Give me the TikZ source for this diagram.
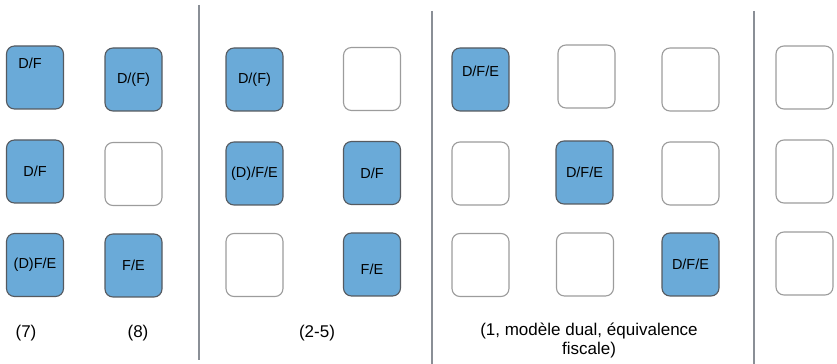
\documentclass[tikz,border=0pt]{standalone}
\usepackage{fontspec}
\setmainfont{Liberation Sans}
\definecolor{cellblue}{HTML}{6AAAD8}
\definecolor{celledge}{HTML}{555A60}
\definecolor{emptyedge}{HTML}{9C9C9C}
\definecolor{sepline}{HTML}{8A8F96}
\tikzset{
cell/.style={rounded corners=0.2cm, minimum width=1.425cm, minimum height=1.575cm, inner sep=0pt, line width=0.8pt, font=\fontsize{10.3}{12}\selectfont},
fullcell/.style={cell, draw=celledge, fill=cellblue},
emptycell/.style={cell, draw=emptyedge, fill=white},
celltext/.style={inner sep=0pt, font=\fontsize{10.3}{12}\selectfont},
caption/.style={font=\fontsize{12.1}{13.6}\selectfont, align=center}
}
\begin{document}
\begin{tikzpicture}
\useasboundingbox (0,0) rectangle (20.925,-9.1);
% separators
\draw[sepline, line width=1.1pt] (4.975,-0.125)--(4.975,-9.0);
\draw[sepline, line width=1.1pt] (10.8,-0.275)--(10.8,-9.1);
\draw[sepline, line width=1.1pt] (18.85,-0.275)--(18.85,-9.1);
% (7)
\node[fullcell] (a1) at (0.875,-1.9375) {};
\node[celltext] (a1t) at ([xshift=-0.125cm,yshift=0.3625cm]a1.center) {D/F};
\node[fullcell] (a2) at (0.875,-4.2875) {D/F};
\node[fullcell] (a3) at (0.875,-6.625) {(D)F/E};
% (8)
\node[fullcell] (b1) at (3.3375,-1.9875) {D/(F)};
\node[emptycell] (b2) at (3.3375,-4.35) {};
\node[fullcell] (b3) at (3.3375,-6.6375) {F/E};
% (2-5)
\node[fullcell] (c1) at (6.3625,-1.9875) {D/(F)};
\node[fullcell] (c2) at (6.3625,-4.3375) {(D)/F/E};
\node[emptycell] (c3) at (6.3625,-6.625) {};
\node[emptycell] (d1) at (9.3,-1.975) {};
\node[fullcell] (d2) at (9.3,-4.325) {D/F};
\node[fullcell] (d3) at (9.3,-6.6125) {};
\node[celltext] (d3t) at ([yshift=-0.11cm]d3.center) {F/E};
% (1, dual)
\node[fullcell] (e1) at (12.0125,-1.9875) {};
\node[celltext] (e1t) at ([yshift=0.2125cm]e1.center) {D/F/E};
\node[emptycell] (e2) at (12.0125,-4.3375) {};
\node[emptycell] (e3) at (12.0125,-6.625) {};
\node[emptycell] (f1) at (14.6625,-1.9125) {};
\node[fullcell] (f2) at (14.6125,-4.3125) {D/F/E};
\node[emptycell] (f3) at (14.625,-6.6125) {};
\node[emptycell] (g1) at (17.2625,-1.9875) {};
\node[emptycell] (g2) at (17.2625,-4.3375) {};
\node[fullcell] (g3) at (17.2625,-6.6125) {D/F/E};
% last column
\foreach \r/\y in {1/-1.9375,2/-4.2875,3/-6.5875}
\node[emptycell] (h\r) at (20.1125,\y) {};
% captions
\node[caption] (cap7) at (0.65,-8.325) {(7)};
\node[caption] (cap8) at (3.45,-8.325) {(8)};
\node[caption] (cap25) at (7.925,-8.325) {(2-5)};
\node[caption] (cap1) at (14.725,-8.5125) {(1, modèle dual, équivalence\\fiscale)};
\end{tikzpicture}
\end{document}
